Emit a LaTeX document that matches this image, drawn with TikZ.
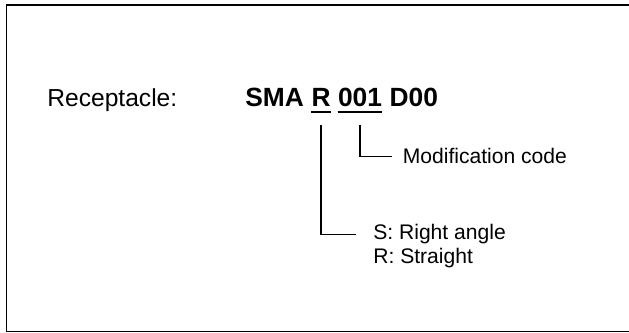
\documentclass[tikz,border=0pt]{standalone}
\usepackage{fontspec}
\setmainfont{Liberation Sans}
\usetikzlibrary{positioning}

\begin{document}
\begin{tikzpicture}[x=0.02cm, y=-0.02cm,
  head/.style={inner sep=0pt, anchor=base west, font=\fontsize{14}{17}\selectfont},
  code/.style={inner sep=0pt, anchor=base west, font=\fontsize{15}{18}\selectfont\bfseries},
  note/.style={inner sep=0pt, anchor=base west, font=\fontsize{12}{14}\selectfont},
  link/.style={line width=1pt},
  uline/.style={line width=1.1pt},
]
\useasboundingbox (0,0) rectangle (629,333);
\clip (0,0) rectangle (629,333);
\draw[line width=0.8pt] (6.3,5) rectangle (660,331.5);
\node[head] (rec) at (47,107) {Receptacle:};
\node[code] (sma) at (245,107) {SMA};
\node[code] (r) at (311.2,107) {R};
\node[code] (num) at (337.7,107) {001};
\node[code] (dcode) at (389.3,107) {D00};
\draw[uline] ([yshift=-2.8pt]r.base west) -- ([yshift=-2.8pt]r.base east);
\draw[uline] ([yshift=-2.8pt]num.base west) -- ([yshift=-2.8pt]num.base east);
\node[note] (modtxt) at (402.5,164) {Modification code};
\node[note] (sangle) at (373,240) {S: Right angle};
\node[note] (straight) at (373,264) {R: Straight};
\draw[link, shorten >=6.1pt] ([yshift=-10.2pt]num.base) |- (modtxt.west);
\draw[link, shorten >=9.6pt] ([yshift=-10.2pt]r.base) |- (sangle.west);
\end{tikzpicture}
\end{document}
